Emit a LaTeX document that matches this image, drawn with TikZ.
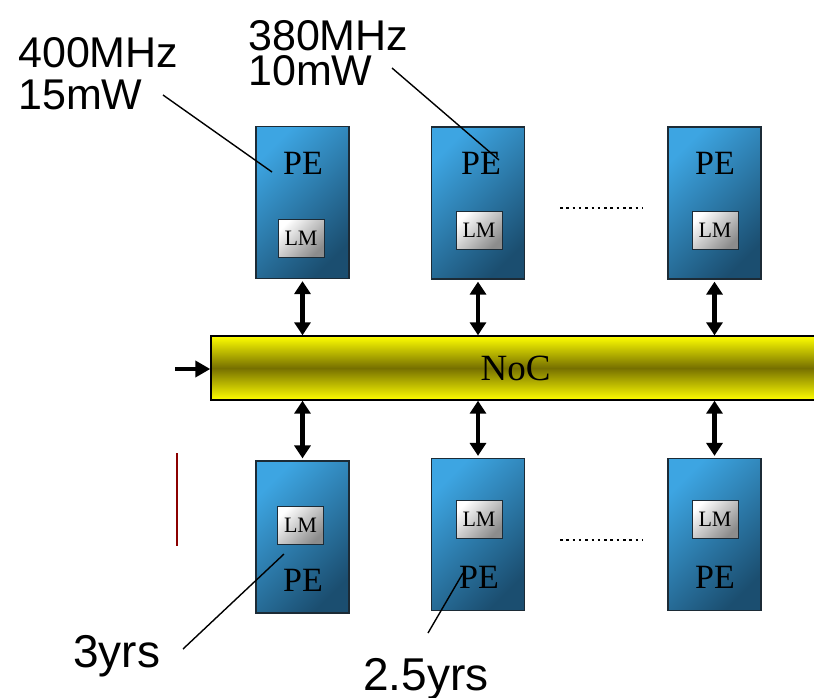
\documentclass[tikz,border=0pt]{standalone}
\usepackage{fontspec}
\setmainfont{Liberation Serif}
\newfontfamily\labelfont{Liberation Sans}
\usetikzlibrary{arrows.meta}
\definecolor{pelight}{HTML}{3DA5E2}
\definecolor{pedark}{HTML}{1B4E70}
\definecolor{peborder}{HTML}{1C2B36}
\definecolor{nocyellow}{HTML}{FFFF00}
\definecolor{nocdark}{HTML}{767000}
\definecolor{lmgray}{HTML}{8C8C8C}
\definecolor{darkred}{HTML}{8B0000}

\tikzset{
  pebox/.style={draw=peborder, line width=1.2pt, top color=pelight, bottom color=pedark,
    shading angle=45, minimum width=93pt, minimum height=152pt, inner sep=0pt},
  lmbox/.style={draw=peborder, line width=1pt, top color=white, bottom color=lmgray,
    shading angle=45, minimum width=46pt, minimum height=38pt, inner sep=0pt,
    font=\fontsize{22}{22}\selectfont},
  petext/.style={font=\fontsize{34}{34}\selectfont, inner sep=0pt},
  nocbar/.style={draw=black, line width=1.4pt, top color=nocyellow, bottom color=nocyellow,
    middle color=nocdark, minimum width=609pt, minimum height=64pt, inner sep=0pt,
    font=\fontsize{37}{37}\selectfont},
  biglabel/.style={font=\labelfont\fontsize{43}{42}\selectfont, inner sep=0pt, align=left},
  lifelabel/.style={font=\labelfont\fontsize{46}{46}\selectfont, inner sep=0pt},
  link/.style={line width=4.5pt, {Triangle[length=13pt,width=16pt]}-{Triangle[length=13pt,width=16pt]}},
  inlink/.style={line width=4.5pt, -{Triangle[length=15pt,width=16pt]}},
  callout/.style={line width=1.4pt},
  dots/.style={line width=2.5pt, dash pattern=on 2.5pt off 3.8pt}
}

\begin{document}
\begin{tikzpicture}[x=1pt,y=-1pt]
\useasboundingbox (0,0) rectangle (814,697);

\node[nocbar] (noc) at (515.5,368) {NoC};

\node[pebox] (pe1) at (302.5,202.5) {};
\node[pebox] (pe2) at (478,203) {};
\node[pebox] (pe3) at (714.5,203) {};
\node[pebox] (pe4) at (302.5,537) {};
\node[pebox] (pe5) at (478,534.5) {};
\node[pebox] (pe6) at (714.5,534.5) {};

\node[petext] (pe1txt) at (303,163) {PE};
\node[petext] (pe2txt) at (481,163) {PE};
\node[petext] (pe3txt) at (715,163) {PE};
\node[petext] (pe4txt) at (303,580) {PE};
\node[petext] (pe5txt) at (479,577) {PE};
\node[petext] (pe6txt) at (715,577) {PE};

\node[lmbox] (lm1) at (301,238) {LM};
\node[lmbox] (lm2) at (479,230.5) {LM};
\node[lmbox] (lm3) at (715,230.5) {LM};
\node[lmbox] (lm4) at (300.5,525) {LM};
\node[lmbox] (lm5) at (479,519) {LM};
\node[lmbox] (lm6) at (715,519) {LM};

\foreach \i in {1,2,3} {
  \draw[link] ([yshift=-2pt]pe\i.south) -- (noc.north -| pe\i.south);
}
\foreach \i in {4,5,6} {
  \draw[link] (noc.south -| pe\i.north) -- ([yshift=2pt]pe\i.north);
}

\coordinate (nocin) at (175,369);
\draw[inlink] (nocin) -- (noc.west |- nocin);

\coordinate (mark1) at (177,453);
\coordinate (mark2) at (177,546);
\draw[darkred, line width=2.2pt] (mark1) -- (mark2);

\coordinate (dotA) at (560,208);
\coordinate (dotB) at (642,208);
\coordinate (dotC) at (560,540);
\coordinate (dotD) at (642,540);
\draw[dots] (dotA) -- (dotB);
\draw[dots] (dotC) -- (dotD);

\node[biglabel, anchor=north west] (freq1) at (18,37) {400MHz\\15mW};
\node[biglabel, anchor=north west, font=\labelfont\fontsize{43}{35}\selectfont] (freq2) at (248,20) {380MHz\\10mW};
\node[lifelabel, anchor=base west] (life1) at (73,667) {3yrs};
\node[lifelabel, anchor=base west] (life2) at (363,690) {2.5yrs};

\coordinate (c1a) at (163,95);
\coordinate (c1b) at (272,172);
\coordinate (c2a) at (392,68);
\coordinate (c2b) at (499,160);
\coordinate (c3a) at (183,649);
\coordinate (c3b) at (284,554);
\coordinate (c4a) at (428,633);
\coordinate (c4b) at (463,573);
\draw[callout] (c1a) -- (c1b);
\draw[callout] (c2a) -- (c2b);
\draw[callout] (c3a) -- (c3b);
\draw[callout] (c4a) -- (c4b);
\end{tikzpicture}
\end{document}
